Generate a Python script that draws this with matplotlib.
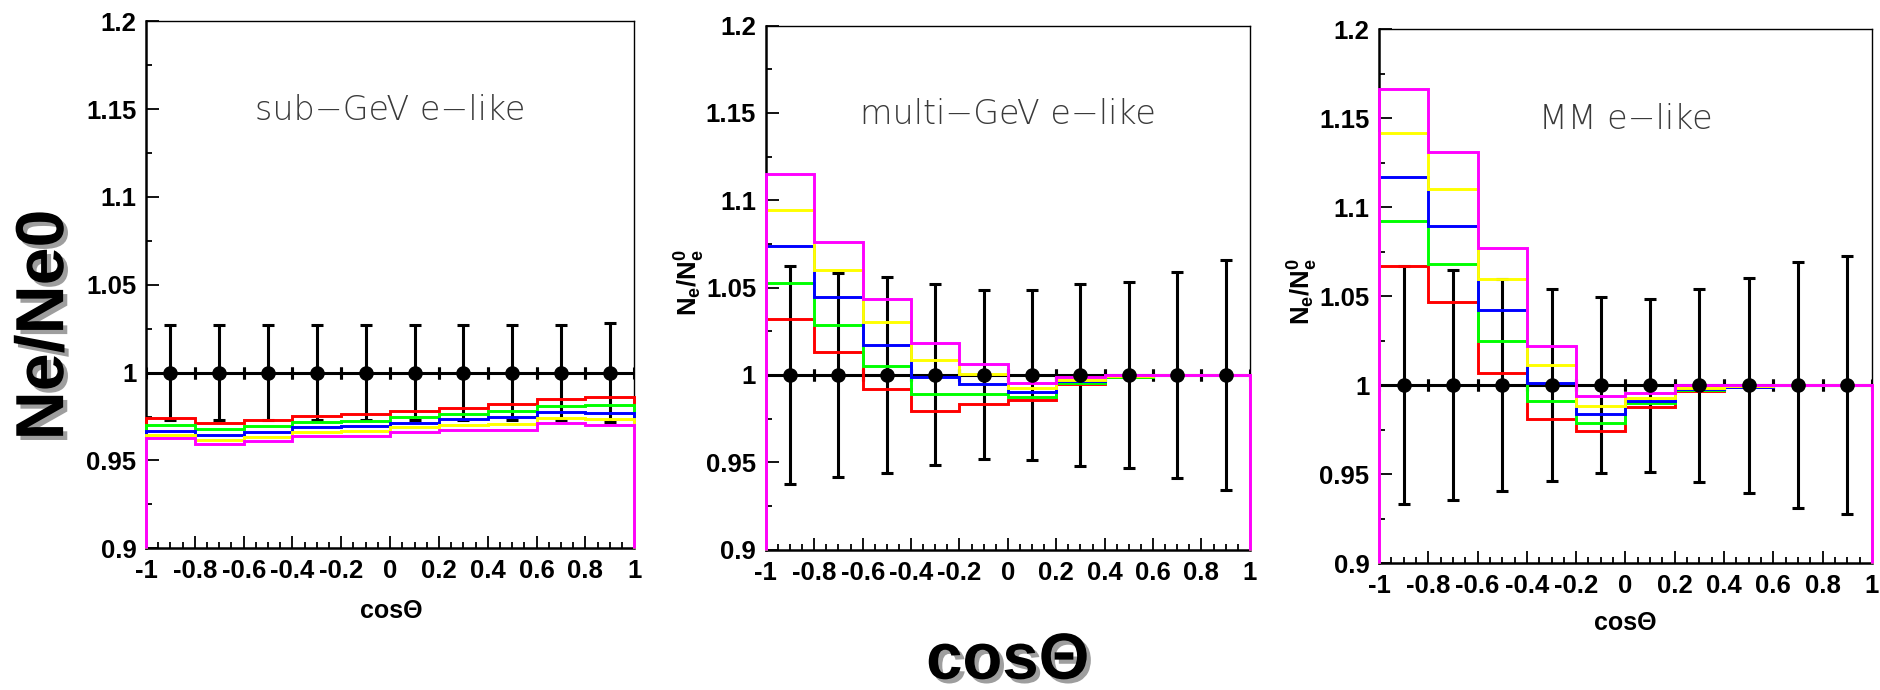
import numpy as np
import matplotlib
matplotlib.use("Agg")
import matplotlib.pyplot as plt
import matplotlib.patheffects as pe
from matplotlib.ticker import MultipleLocator, FuncFormatter

plt.rcParams['font.family'] = ['Liberation Sans', 'DejaVu Sans']
plt.rcParams['font.weight'] = 'bold'
plt.rcParams['mathtext.fontset'] = 'custom'
plt.rcParams['mathtext.rm'] = 'Liberation Sans:bold'
plt.rcParams['mathtext.bf'] = 'Liberation Sans:bold'
plt.rcParams['mathtext.it'] = 'Liberation Sans:bold'
plt.rcParams['mathtext.default'] = 'bf'

# cos(theta) binning
edges = np.linspace(-1, 1, 11)
centers = 0.5 * (edges[:-1] + edges[1:])

colors = ['#ff0000', '#00ff00', '#0000ff', '#ffff00', '#ff00ff']

# sub-GeV e-like
sub_err = [0.027, 0.027, 0.027, 0.027, 0.027, 0.027, 0.027, 0.027, 0.027, 0.028]
sub_red = [0.974, 0.9715, 0.973, 0.9755, 0.9762, 0.978, 0.980, 0.982, 0.985, 0.986]
sub_green = [0.970, 0.968, 0.9696, 0.9719, 0.9726, 0.9745, 0.9764, 0.978, 0.981, 0.9817]
sub_blue = [0.9667, 0.9644, 0.966, 0.9688, 0.9696, 0.9715, 0.9734, 0.9745, 0.9776, 0.9772]
sub_yellow = [0.9646, 0.9616, 0.9633, 0.966, 0.9667, 0.9688, 0.970, 0.971, 0.9743, 0.9738]
sub_magenta = [0.9625, 0.9591, 0.9608, 0.9639, 0.9639, 0.9662, 0.9671, 0.9675, 0.9713, 0.970]

# multi-GeV e-like
multi_err = [0.0626, 0.0584, 0.0562, 0.0518, 0.0483, 0.0488, 0.052, 0.0532, 0.0591, 0.0659]
multi_red = [1.0321, 1.0133, 0.992, 0.9795, 0.9835, 0.9854, 0.9949, 0.999, 1.0, 1.0]
multi_green = [1.0527, 1.0287, 1.0048, 0.989, 0.989, 0.9876, 0.9956, 0.999, 1.0, 1.0]
multi_blue = [1.0736, 1.0445, 1.0171, 0.999, 0.9947, 0.9899, 0.9962, 0.9992, 1.0, 1.0]
multi_yellow = [1.0941, 1.0603, 1.0302, 1.0084, 1.0004, 0.9926, 0.9968, 0.9994, 1.0, 1.0]
multi_magenta = [1.115, 1.0762, 1.0432, 1.018, 1.0063, 0.9951, 0.9985, 1.0, 1.0, 1.0]

# MM e-like
mm_err = [0.067, 0.0646, 0.0597, 0.0538, 0.0494, 0.0486, 0.0542, 0.0604, 0.069, 0.0723]
mm_red = [1.0669, 1.0464, 1.0069, 0.9811, 0.9742, 0.9878, 0.9968, 0.9987, 1.0, 1.0]
mm_green = [1.0919, 1.0678, 1.0245, 0.991, 0.9788, 0.9897, 0.9974, 0.9989, 1.0, 1.0]
mm_blue = [1.117, 1.0891, 1.0419, 1.0009, 0.9835, 0.9912, 0.998, 0.999, 1.0, 1.0]
mm_yellow = [1.1418, 1.1099, 1.0594, 1.0112, 0.9884, 0.9929, 0.9985, 0.9994, 1.0, 1.0]
mm_magenta = [1.1663, 1.1307, 1.077, 1.0219, 0.9938, 0.9953, 1.0, 1.0, 1.0, 1.0]

titles = ['sub\u2212GeV e\u2212like', 'multi\u2212GeV e\u2212like', 'MM e\u2212like']
errs = [sub_err, multi_err, mm_err]
hists = [
    [sub_red, sub_green, sub_blue, sub_yellow, sub_magenta],
    [multi_red, multi_green, multi_blue, multi_yellow, multi_magenta],
    [mm_red, mm_green, mm_blue, mm_yellow, mm_magenta],
]

fig = plt.figure(figsize=(18.8, 6.9), dpi=100)
rects = [
    [0.0777, 0.2054, 0.2596, 0.7638],
    [0.4074, 0.2036, 0.2574, 0.7594],
    [0.7335, 0.1840, 0.2622, 0.7739],
]

fmt = FuncFormatter(lambda v, p: '%g' % round(v, 3) if abs(v) > 1e-9 else '0')

for rect, title, err, hs in zip(rects, titles, errs, hists):
    ax = fig.add_axes(rect)
    ax.set_xlim(-1, 1)
    ax.set_ylim(0.9, 1.2)

    # reference points with errors
    ax.errorbar(centers, np.ones(10), xerr=0.1, yerr=err, fmt='none',
                ecolor='k', elinewidth=2.2, capsize=4.5, capthick=2.2, zorder=2)
    for vals, c in zip(hs, colors):
        ax.stairs(vals, edges, baseline=0.9, color=c, lw=2.1, zorder=3,
                  clip_on=False)
    ax.plot(centers, np.ones(10), 'o', color='k', ms=9.5, zorder=4)

    ax.text(0.5, 0.83, title, transform=ax.transAxes, ha='center', va='center',
            fontsize=24, color='#3a3a3a', family='DejaVu Sans',
            fontweight='light')

    ax.xaxis.set_major_locator(MultipleLocator(0.2))
    ax.xaxis.set_minor_locator(MultipleLocator(0.05))
    ax.yaxis.set_major_locator(MultipleLocator(0.05))
    ax.yaxis.set_minor_locator(MultipleLocator(0.025))
    ax.xaxis.set_major_formatter(fmt)
    ax.yaxis.set_major_formatter(fmt)
    ax.tick_params(which='both', direction='in', top=False, right=False,
                   width=1.3)
    ax.tick_params(which='major', length=9, labelsize=18.5)
    ax.tick_params(axis='x', which='major', pad=8)
    ax.tick_params(axis='y', which='major', pad=7)
    ax.tick_params(which='minor', length=4.5)
    for s in ['left', 'bottom']:
        ax.spines[s].set_linewidth(1.8)
    for s in ['top', 'right']:
        ax.spines[s].set_linewidth(1.0)

shadow = [pe.SimplePatchShadow(offset=(3, -3), shadow_rgbFace=(0.62, 0.62, 0.62),
                               alpha=1.0), pe.Normal()]

fig.text(0.024, 0.529, 'Ne/Ne0', rotation=90, ha='center', va='center',
         fontsize=49, fontweight='bold', path_effects=shadow)
fig.text(0.367, 0.591, r'$N_e/N_e^0$', rotation=90, ha='center', va='center',
         fontsize=18.5)
fig.text(0.693, 0.578, r'$N_e/N_e^0$', rotation=90, ha='center', va='center',
         fontsize=18.5)
fig.text(0.208, 0.1145, 'cos\u0398', ha='center', va='center',
         fontsize=18, fontweight='bold')
fig.text(0.8644, 0.097, 'cos\u0398', ha='center', va='center',
         fontsize=18, fontweight='bold')
fig.text(0.536, 0.041, 'cos\u0398', ha='center', va='center',
         fontsize=47, fontweight='bold', path_effects=shadow)

fig.savefig('out.png', dpi=100)
